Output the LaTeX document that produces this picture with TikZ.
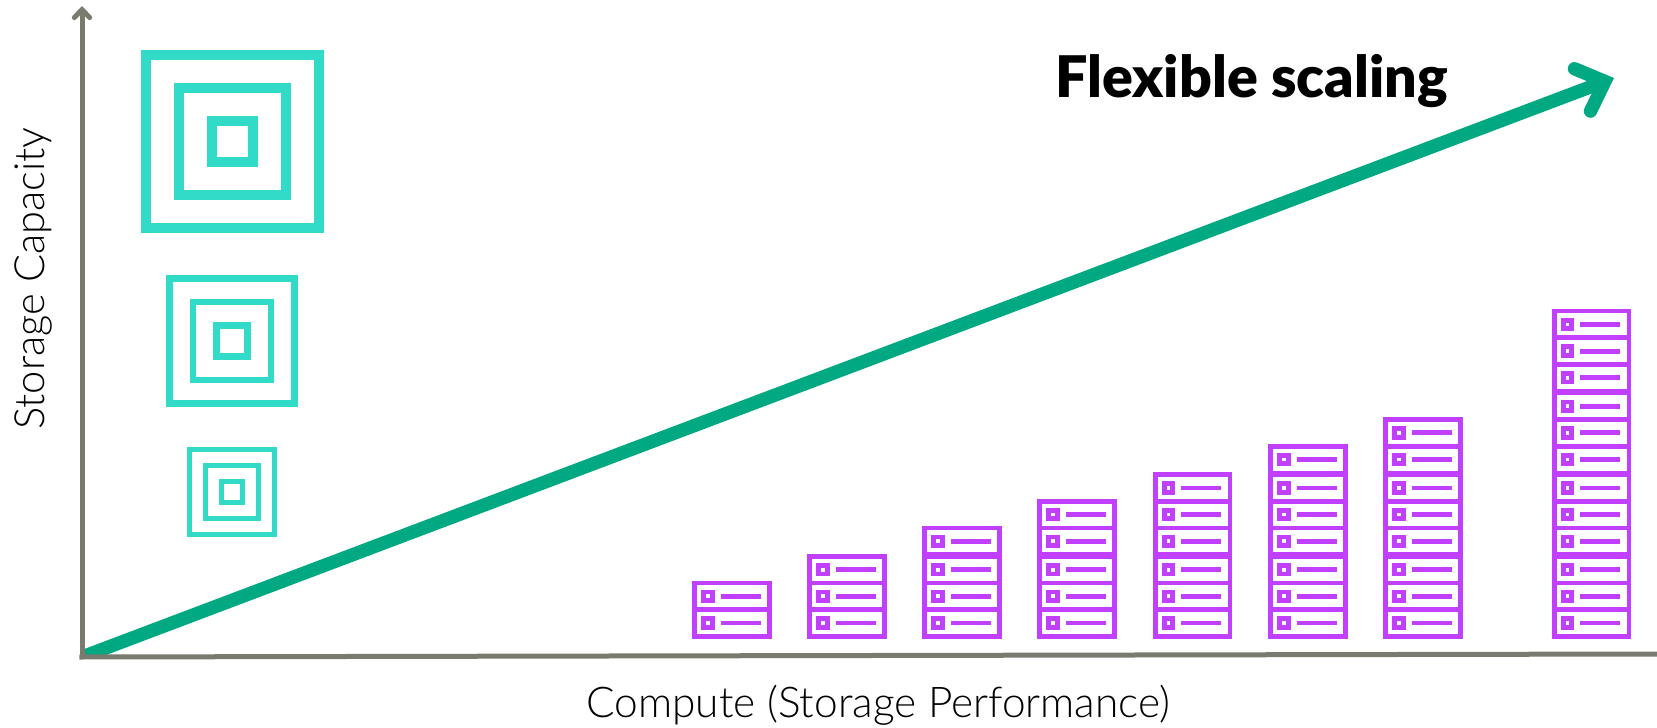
\documentclass[tikz,border=0pt]{standalone}
\usepackage{fontspec}
\setmainfont{Lato}[UprightFont=* Light,BoldFont=* Black]
\usepackage{tikz}
\usetikzlibrary{arrows.meta}
\usetikzlibrary{positioning}
\definecolor{axisgray}{HTML}{7A7A6E}
\definecolor{arrowgreen}{HTML}{01A982}
\definecolor{squareteal}{HTML}{32DAC8}
\definecolor{rackpurple}{HTML}{C140FF}

\begin{document}
\begin{tikzpicture}[
  x=0.75pt, y=-0.75pt,
	square1/.style={
	draw=squareteal,
	rectangle,
	inner sep=0pt,
	line width=7.3pt},
	square2/.style={
	draw=squareteal,
	rectangle,
	inner sep=0pt,
	line width=5.2pt},
	square3/.style={
	draw=squareteal,
	rectangle,
	inner sep=0pt,
	line width=3.7pt},
	unit/.style={
	draw=rackpurple,
	rectangle,
	inner sep=0pt,
	outer sep=0pt,
	line width=3.5pt,
	minimum width=56pt,
	minimum height=20pt,
	path picture={
	  \draw[rackpurple, line width=3.6pt] ([xshift=-21.2pt, yshift=-3.2pt]path picture bounding box.center) rectangle ([xshift=-14.8pt, yshift=3.2pt]path picture bounding box.center);
	  \draw[rackpurple, line width=3.6pt] ([xshift=-8.6pt]path picture bounding box.center) -- ([xshift=21.4pt]path picture bounding box.center);
	}},
	axis/.style={
	axisgray,
	line width=3.75pt,
	-{Straight Barb[length=6pt, width=11.5pt, line cap=round]}
	},
  trend/.style={
  arrowgreen,
  line width=10pt,
  -{Straight Barb[length=18pt, width=34pt, line cap=round]}
  },
	label/.style={
	inner sep=0pt,
	font=\fontsize{31.8pt}{32pt}\selectfont}]

	\useasboundingbox (0,0) rectangle (1657,728);

	\coordinate (origin) at (82,657);
	\coordinate (ytop) at (82,6);
	\coordinate (xend) at (1657,654);

	% Trend
	\coordinate (trendend) at (1614,78);
	\begin{scope}
	\clip (82,0) rectangle (1657,656);
	\draw[trend] (origin) -- (trendend);
	\end{scope}

	% Axes
	\draw[axis] (origin) -- (ytop);
	\draw[axisgray, line width=3.75pt] ([xshift=-1.9pt]origin) -- (xend);

	% Labels
	\node [anchor=base west, inner sep=0pt, font=\fontsize{43pt}{43pt}\selectfont\bfseries] at (1055,97) (title) {Flexible scaling};
	\node [label, anchor=base west] at (586,717) (xlabel) {Compute (Storage Performance)};
	\node [label, anchor=base west, rotate=90, font=\fontsize{31.2pt}{32pt}\selectfont] at (44,430) (ylabel) {Storage Capacity};

	% Large squares
	\node [square1, minimum size=130pt] at (232.5,141.5) (s1a) {};
	\node [square1, minimum size=80.5pt] at (232.5,141.5) (s1b) {};
	\node [square1, minimum size=31pt] at (232.5,141.5) (s1c) {};

	% Medium squares
	\node [square2, minimum size=93.8pt] at (232,341) (s2a) {};
	\node [square2, minimum size=58.5pt] at (232,341) (s2b) {};
	\node [square2, minimum size=23.3pt] at (232,341) (s2c) {};

	% Small squares
	\node [square3, minimum size=63.8pt] at (232,492) (s3a) {};
	\node [square3, minimum size=39.8pt] at (232,492) (s3b) {};
	\node [square3, minimum size=15.8pt] at (232,492) (s3c) {};

	% Rack 1
	\node [unit] at (732,623) (r1u1) {};
	\node [unit, above=0pt of r1u1] (r1u2) {};

	% Rack 2
	\node [unit] at (847,623) (r2u1) {};
	\node [unit, above=0pt of r2u1] (r2u2) {};
	\node [unit, above=0pt of r2u2] (r2u3) {};

	% Rack 3
	\node [unit] at (962,623) (r3u1) {};
	\node [unit, above=0pt of r3u1] (r3u2) {};
	\node [unit, above=0pt of r3u2] (r3u3) {};
	\node [unit, above=1.3pt of r3u3] (r3u4) {};

	% Rack 4
	\node [unit] at (1077,623) (r4u1) {};
	\node [unit, above=0pt of r4u1] (r4u2) {};
	\node [unit, above=0pt of r4u2] (r4u3) {};
	\node [unit, above=1.3pt of r4u3] (r4u4) {};
	\node [unit, above=0pt of r4u4] (r4u5) {};

	% Rack 5
	\node [unit] at (1192.5,623) (r5u1) {};
	\node [unit, above=0pt of r5u1] (r5u2) {};
	\node [unit, above=0pt of r5u2] (r5u3) {};
	\node [unit, above=1.3pt of r5u3] (r5u4) {};
	\node [unit, above=0pt of r5u4] (r5u5) {};
	\node [unit, above=0pt of r5u5] (r5u6) {};

	% Rack 6
	\node [unit] at (1308,623) (r6u1) {};
	\node [unit, above=0pt of r6u1] (r6u2) {};
	\node [unit, above=0pt of r6u2] (r6u3) {};
	\node [unit, above=1.3pt of r6u3] (r6u4) {};
	\node [unit, above=0pt of r6u4] (r6u5) {};
	\node [unit, above=0pt of r6u5] (r6u6) {};
	\node [unit, above=1.3pt of r6u6] (r6u7) {};

	% Rack 7
	\node [unit] at (1423,623) (r7u1) {};
	\node [unit, above=0pt of r7u1] (r7u2) {};
	\node [unit, above=0pt of r7u2] (r7u3) {};
	\node [unit, above=1.3pt of r7u3] (r7u4) {};
	\node [unit, above=0pt of r7u4] (r7u5) {};
	\node [unit, above=0pt of r7u5] (r7u6) {};
	\node [unit, above=1.3pt of r7u6] (r7u7) {};
	\node [unit, above=0pt of r7u7] (r7u8) {};

	% Rack 8
	\node [unit] at (1591.5,623) (r8u1) {};
	\node [unit, above=0pt of r8u1] (r8u2) {};
	\node [unit, above=0pt of r8u2] (r8u3) {};
	\node [unit, above=1.3pt of r8u3] (r8u4) {};
	\node [unit, above=0pt of r8u4] (r8u5) {};
	\node [unit, above=0pt of r8u5] (r8u6) {};
	\node [unit, above=1.3pt of r8u6] (r8u7) {};
	\node [unit, above=0pt of r8u7] (r8u8) {};
	\node [unit, above=0pt of r8u8] (r8u9) {};
	\node [unit, above=1.3pt of r8u9] (r8u10) {};
	\node [unit, above=0pt of r8u10] (r8u11) {};
	\node [unit, above=0pt of r8u11] (r8u12) {};

\end{tikzpicture}
\end{document}
